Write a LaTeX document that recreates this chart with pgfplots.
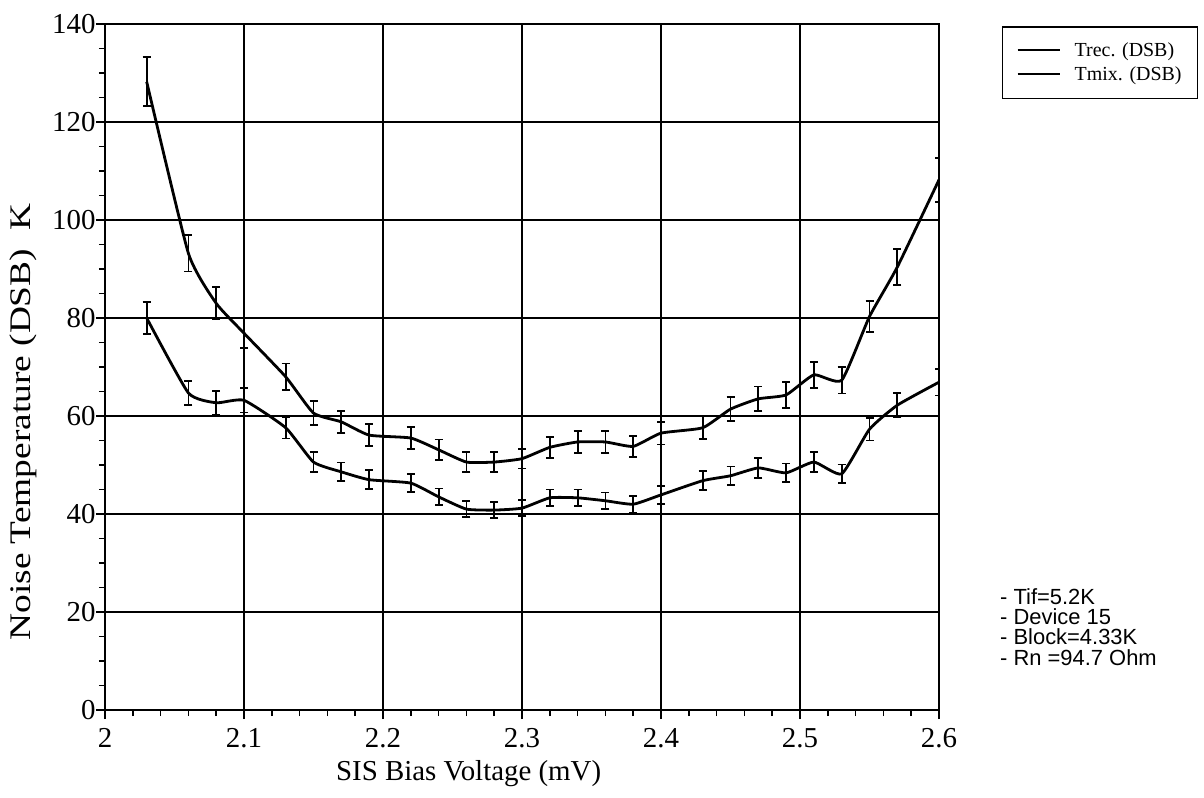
\documentclass[border=0pt]{standalone}
\usepackage{pgfplots}
\pgfplotsset{compat=1.18}
\usepackage{fontspec}
\setmainfont{Liberation Serif}
\newfontfamily\notesfont{Liberation Sans}

\pgfplotstableread{
x     y      e
2.03  128.2  5.0
2.06  93.2   3.7
2.08  83.0   3.3
2.10  76.9   3.0
2.13  68.0   2.7
2.15  60.6   2.4
2.17  58.8   2.3
2.19  56.1   2.3
2.22  55.5   2.2
2.24  53.1   2.1
2.26  50.6   2.0
2.28  50.6   2.0
2.30  51.3   2.0
2.32  53.6   2.1
2.34  54.7   2.2
2.36  54.7   2.2
2.38  53.8   2.1
2.40  56.5   2.3
2.43  57.6   2.3
2.45  61.4   2.5
2.47  63.5   2.5
2.49  64.3   2.6
2.51  68.4   2.7
2.53  67.3   2.7
2.55  80.3   3.2
2.57  90.4   3.7
2.60  108.2  4.5
}\trec

\pgfplotstableread{
x     y      e
2.03  80.0   3.3
2.06  64.7   2.5
2.08  62.7   2.4
2.10  63.2   2.5
2.13  57.6   2.2
2.15  50.6   2.0
2.17  48.6   1.9
2.19  47.0   1.9
2.22  46.3   1.8
2.24  43.5   1.7
2.26  41.0   1.6
2.28  40.8   1.6
2.30  41.2   1.6
2.32  43.3   1.7
2.34  43.3   1.7
2.36  42.7   1.7
2.38  42.0   1.7
2.40  43.9   1.8
2.43  46.8   1.9
2.45  47.8   1.9
2.47  49.4   2.0
2.49  48.4   1.9
2.51  50.6   2.0
2.53  48.2   1.9
2.55  57.3   2.3
2.57  62.2   2.5
2.60  66.9   2.7
}\tmix

\newcommand{\legtext}[1]{\fontsize{20}{24}\selectfont\hspace*{12bp}\rule[-6bp]{0pt}{18bp}#1}

\begin{document}
\begin{tikzpicture}
\path[use as bounding box] (0,0) rectangle (1204bp,798bp);
\begin{axis}[
  at={(105bp,88bp)}, anchor=south west,
  scale only axis, width=834bp, height=686bp,
  xmin=2, xmax=2.6, ymin=0, ymax=140,
  xtick={2,2.1,2.2,2.3,2.4,2.5,2.6},
  ytick={0,20,40,60,80,100,120,140},
  minor x tick num=4, minor y tick num=3,
  tick pos=left, tick align=outside,
  major tick length=9bp, minor tick length=6bp,
  every tick/.style={black, line width=1.5bp},
  grid=major,
  major grid style={black, line width=1.8bp},
  axis line style={black, line width=2bp},
  /pgf/number format/assume math mode=true,
  xticklabel style={/pgf/number format/fixed, /pgf/number format/precision=1, yshift=-6bp},
  yticklabel style={xshift=3bp},
  tick label style={font=\fontsize{29}{32}\selectfont},
  xlabel={SIS Bias Voltage (mV)},
  ylabel={\scalebox{1.25}[1]{Noise Temperature (DSB)\ \ K}},
  xlabel style={font=\fontsize{29}{32}\selectfont, at={(axis description cs:0.436,-0.092)}, anchor=center},
  ylabel style={font=\fontsize{30}{32}\selectfont, at={(axis description cs:-0.098,0.42)}, anchor=center},
  legend style={at={(axis description cs:1.0755,0.997)}, anchor=north west,
    draw=black, line width=1.5bp, inner xsep=14bp, inner ysep=14bp, row sep=5bp},
  legend cell align=left,
  legend image code/.code={\draw[black, line width=2bp] (0bp,0.5bp) -- (42bp,0.5bp);},
]
\addplot[black, line width=2.8bp, smooth, tension=0.3,
  error bars/.cd, y dir=both, y explicit,
  error bar style={line width=1.8bp},
  error mark options={rotate=90, line width=1.8bp, mark size=4bp}]
  table[x=x, y=y, y error=e] {\trec};
\addlegendentry{\legtext{Trec. (DSB)}}
\addplot[black, line width=2.8bp, smooth, tension=0.3,
  error bars/.cd, y dir=both, y explicit,
  error bar style={line width=1.8bp},
  error mark options={rotate=90, line width=1.8bp, mark size=4bp}]
  table[x=x, y=y, y error=e] {\tmix};
\addlegendentry{\legtext{Tmix. (DSB)}}
\end{axis}
\node[anchor=north west, align=left, font=\notesfont\fontsize{22}{20.5}\selectfont, inner sep=0pt]
  at (1000bp,210bp) {- Tif=5.2K\\- Device 15\\- Block=4.33K\\- Rn =94.7 Ohm};
\end{tikzpicture}
\end{document}
